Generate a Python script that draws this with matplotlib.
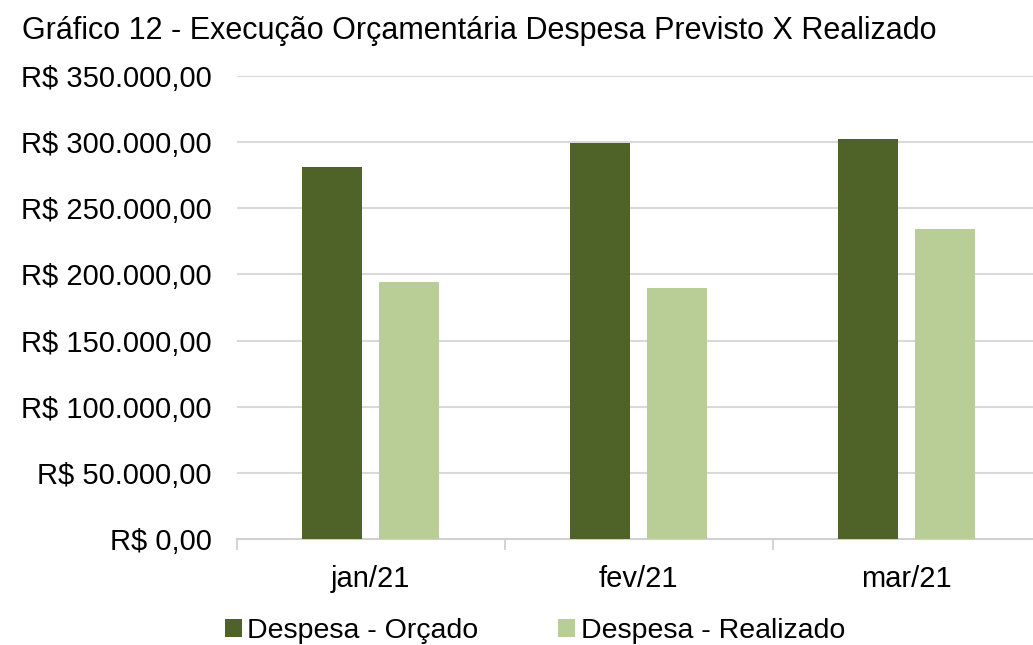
import numpy as np
import matplotlib.pyplot as plt
from matplotlib.ticker import FuncFormatter

meses = ['jan/21', 'fev/21', 'mar/21']
orcado = [281000, 299300, 302300]
realizado = [193900, 189600, 234300]
series_nomes = ['Despesa - Orçado', 'Despesa - Realizado']
cores = ['#4F6228', '#B9CD96']

plt.rcParams['font.family'] = ['Liberation Sans', 'DejaVu Sans']

fig = plt.figure(figsize=(10.33, 6.45), dpi=100)
ax = fig.add_axes([0.229, 0.1643, 0.771, 0.7179])

x = np.arange(len(meses))
largura = 0.224
ax.bar(x - 0.143, orcado, largura, color=cores[0], label=series_nomes[0], zorder=3)
ax.bar(x + 0.143, realizado, largura, color=cores[1], label=series_nomes[1], zorder=3)

ax.set_ylim(0, 350000)
ax.set_xlim(-0.5, 2.472)
ax.set_yticks(np.arange(0, 350001, 50000))


def moeda(v, _):
    s = f'{v:,.2f}'.replace(',', 'X').replace('.', ',').replace('X', '.')
    return f'R$ {s}'


ax.yaxis.set_major_formatter(FuncFormatter(moeda))
ax.set_xticks(x)
ax.set_xticklabels(meses)
ax.set_xticks([-0.5, 0.5, 1.5], minor=True)
ax.tick_params(axis='x', which='major', length=0, pad=19, labelsize=21)
ax.tick_params(axis='x', which='minor', length=8, color='#D0D0D0', width=1.3)
ax.tick_params(axis='y', length=0, pad=18, labelsize=21)
ax.grid(axis='y', color='#D9D9D9', linewidth=1.5, zorder=0)

for lado in ['top', 'right', 'left']:
    ax.spines[lado].set_visible(False)
ax.spines['bottom'].set_color('#D0D0D0')
ax.spines['bottom'].set_linewidth(1.5)

fig.text(0.021, 0.952, 'Gráfico 12 - Execução Orçamentária Despesa Previsto X Realizado',
         fontsize=22, va='center')

fig.legend(loc='center', bbox_to_anchor=(0.518, 0.021), ncol=2, frameon=False,
           fontsize=20.5, handlelength=0.6, handleheight=0.6, handletextpad=0.2,
           columnspacing=2.8, borderpad=0.1)

fig.savefig('out.png', dpi=100)
